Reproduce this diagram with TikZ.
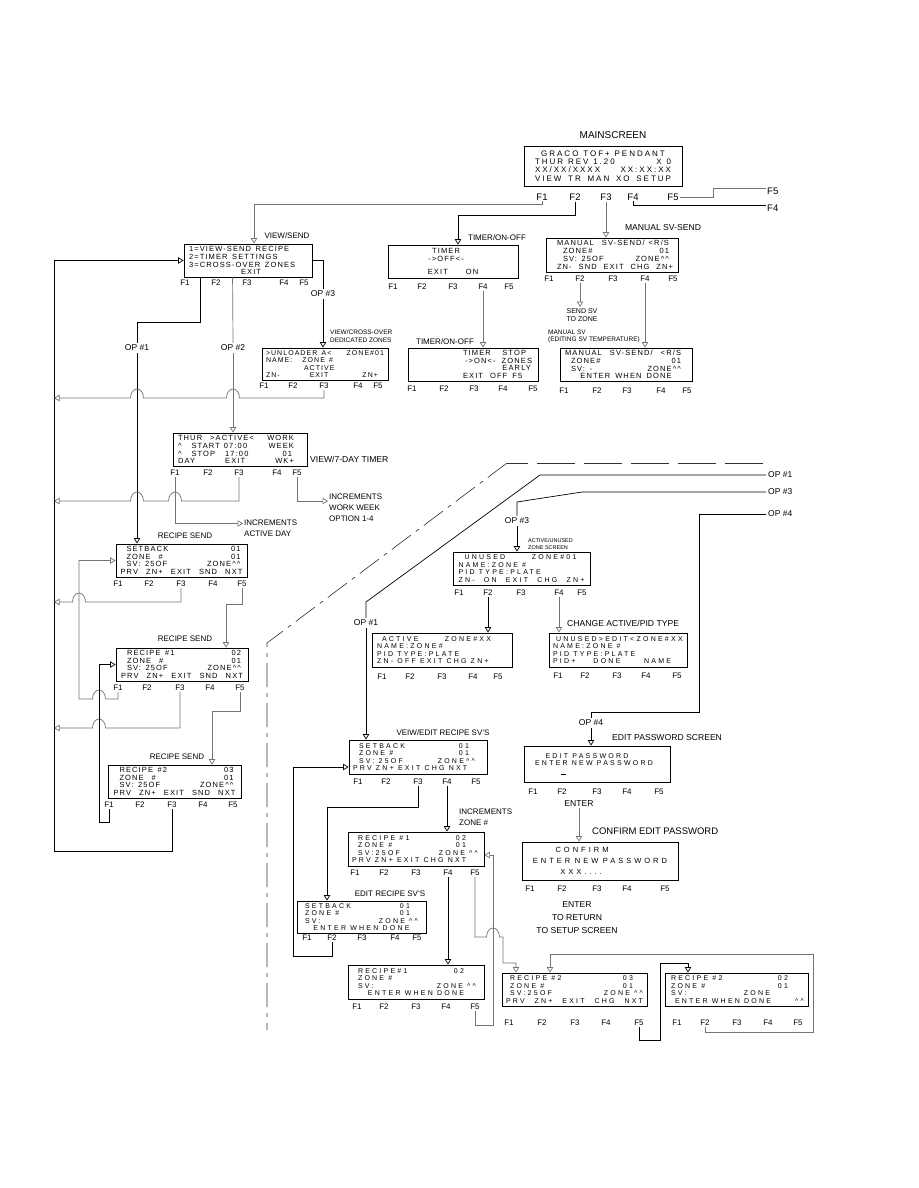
\documentclass[tikz,border=0pt]{standalone}
\usepackage{fontspec}
\setmainfont{Liberation Sans}
\newfontfamily\lcdn[LetterSpace=15]{Liberation Sans}
\newfontfamily\lcdw[LetterSpace=32]{Liberation Sans}
\newfontfamily\lcdm[LetterSpace=25]{Liberation Sans}
\newfontfamily\lcdx[LetterSpace=40]{Liberation Sans}
\usetikzlibrary{arrows.meta}
\newcommand\lcdcaret{\textasciicircum}
\newcommand\ws{\hspace{0.6em}}
\newcommand\lcdl[1]{\ifvmode\noindent\fi\hbox to\linewidth{#1}}
\newcommand\lcdN{\lcdn\fontsize{7.5}{7.8}\selectfont}
\newcommand\lcdS{\lcdn\fontsize{7}{7.6}\selectfont}
\newcommand\lcdW{\lcdw\fontsize{7}{7.4}\selectfont}
\newcommand\lcdM{\lcdm\fontsize{8}{8.3}\selectfont}
\newcommand\lcdX{\lcdx\fontsize{7.5}{11}\selectfont}
\newcommand\scrbox[8]{%
  \node[scr,minimum width={(#4-#2)*1pt},minimum height={(#5-#3)*1pt},text width=#6,font={#7}] (#1) at ({(#2+#4)/2},{(#3+#5)/2}) {#8};}
\newcommand\fkeys[7]{%
  \node[fk] (#1-1) at (#3,#2) {F1};
  \node[fk] (#1-2) at (#4,#2) {F2};
  \node[fk] (#1-3) at (#5,#2) {F3};
  \node[fk] (#1-4) at (#6,#2) {F4};
  \node[fk] (#1-5) at (#7,#2) {F5};}
\tikzset{
 scr/.style={draw, line width=0.9pt, inner sep=0pt, align=left},
 fk/.style={font=\fontsize{8}{9}\selectfont, inner sep=1pt},
 lab/.style={font=\fontsize{8}{9}\selectfont, inner sep=1pt},
 labm/.style={font=\fontsize{8.6}{10}\selectfont, inner sep=1pt},
 labs/.style={font=\fontsize{6.5}{7.5}\selectfont, inner sep=1pt, align=left},
 labt/.style={font=\fontsize{5.5}{6.5}\selectfont, inner sep=1pt, align=left},
 opl/.style={font=\fontsize{8.5}{9}\selectfont, inner sep=2pt},
 blk/.style={draw=black, line width=0.7pt},
 gry/.style={draw=black!55, line width=0.7pt},
 arr/.style={-{Triangle[open,length=5.5pt,width=6.5pt]}},
 divh/.style={draw=black!80, line width=0.6pt, dash pattern=on 38pt off 9pt},
 divd/.style={draw=black!80, line width=0.6pt, dash pattern=on 24pt off 6pt on 4pt off 6pt},
}
\begin{document}
\begin{tikzpicture}[x=1pt,y=-1pt]
\useasboundingbox (0,0) rectangle (918,1188);
% ---------------- screens ----------------
\scrbox{ms}{524}{146}{682}{186}{136pt}{\lcdM}{\lcdl{\hfill GRACO\ws TOF+\ws PENDANT\hfill}\\\lcdl{THUR\ws REV\ws 1.20\hfill X\ws 0}\\\lcdl{XX/XX/XXXX\hfill XX:XX:XX}\\\lcdl{VIEW\hfill TR\hfill MAN\hfill XO\hfill SETUP}}
\scrbox{vs}{184}{244}{312}{277}{118pt}{\lcdN}{\lcdl{1=VIEW-SEND\ws RECIPE\hfill}\\\lcdl{2=TIMER\ws SETTINGS\hfill}\\\lcdl{3=CROSS-OVER\ws ZONES\hfill}\\\lcdl{\hspace{52pt}EXIT\hfill}}
\scrbox{xo}{262}{348}{388}{380}{118pt}{\lcdS}{\lcdl{>UNLOADER\ws A<\hfill ZONE\#01}\\\lcdl{NAME:\hspace{10pt}ZONE\ws\#\hfill}\\\lcdl{\hspace{38pt}ACTIVE\hfill}\\\lcdl{ZN-\hspace{30pt}EXIT\hfill ZN+\hspace{6pt}}}
\scrbox{tm1}{388}{245}{518}{278}{120pt}{\lcdN}{\lcdl{\hfill TIMER\hfill\hspace{14pt}}\\\lcdl{\hfill ->OFF<-\hfill\hspace{14pt}}\\[5pt]\lcdl{\hfill EXIT\hspace{18pt}ON\hfill}}
\scrbox{tm2}{408}{348}{538}{381}{120pt}{\lcdN}{\lcdl{\hspace{50pt}TIMER\hfill STOP\hspace{7pt}}\\\lcdl{\hspace{52pt}->ON<-\hfill ZONES\hspace{1pt}}\\\lcdl{\hfill EARLY\hspace{2pt}}\\\lcdl{\hspace{50pt}EXIT\hspace{7pt}OFF\hspace{5pt}F5\hfill}}
\scrbox{mv1}{546}{238}{678}{272}{122pt}{\lcdN}{\lcdl{\hspace{6pt}MANUAL\hspace{8pt}SV-SEND/\hfill <R/S\hspace{4pt}}\\\lcdl{\hspace{12pt}ZONE\#\hfill 01\hspace{4pt}}\\\lcdl{\hspace{12pt}SV:\ws 25OF\hfill ZONE\lcdcaret\lcdcaret\hspace{4pt}}\\\lcdl{\hspace{6pt}ZN-\hfill SND\hfill EXIT\hfill CHG\hfill ZN+}}
\scrbox{mv2}{560}{348}{692}{381}{122pt}{\lcdN}{\lcdl{MANUAL\hspace{8pt}SV-SEND/\hfill <R/S\hspace{6pt}}\\\lcdl{\hspace{6pt}ZONE\#\hfill 01\hspace{6pt}}\\\lcdl{\hspace{6pt}SV:\ws -\hfill ZONE\lcdcaret\lcdcaret\hspace{6pt}}\\\lcdl{\hfill ENTER\hspace{5pt}WHEN\hspace{5pt}DONE\hfill}}
\scrbox{vt}{173}{433}{307}{466}{124pt}{\lcdN}{\lcdl{THUR\hspace{8pt}>ACTIVE<\hfill WORK\hspace{8pt}}\\\lcdl{\lcdcaret\hspace{10pt}START\hspace{4pt}07:00\hfill WEEK\hspace{8pt}}\\\lcdl{\lcdcaret\hspace{10pt}STOP\hspace{10pt}17:00\hfill 01\hspace{10pt}}\\\lcdl{DAY\hfill EXIT\hfill WK+\hspace{8pt}}}
\scrbox{rs0}{116}{544}{247}{577}{122pt}{\lcdN}{\lcdl{\hspace{6pt}SETBACK\hfill 01\hspace{2pt}}\\\lcdl{\hspace{6pt}ZONE\hspace{8pt}\#\hfill 01\hspace{2pt}}\\\lcdl{\hspace{6pt}SV:\ws 25OF\hfill ZONE\lcdcaret\lcdcaret\hspace{2pt}}\\\lcdl{PRV\hfill ZN+\hfill EXIT\hfill SND\hfill NXT}}
\scrbox{rs1}{116}{648}{248}{681}{122pt}{\lcdN}{\lcdl{\hspace{6pt}RECIPE\ws\#1\hfill 02\hspace{2pt}}\\\lcdl{\hspace{6pt}ZONE\hspace{8pt}\#\hfill 01\hspace{2pt}}\\\lcdl{\hspace{6pt}SV:\ws 25OF\hfill ZONE\lcdcaret\lcdcaret\hspace{2pt}}\\\lcdl{PRV\hfill ZN+\hfill EXIT\hfill SND\hfill NXT}}
\scrbox{rs2}{108}{765}{241}{798}{122pt}{\lcdN}{\lcdl{\hspace{6pt}RECIPE\ws\#2\hfill 03\hspace{2pt}}\\\lcdl{\hspace{6pt}ZONE\hspace{8pt}\#\hfill 01\hspace{2pt}}\\\lcdl{\hspace{6pt}SV:\ws 25OF\hfill ZONE\lcdcaret\lcdcaret\hspace{2pt}}\\\lcdl{PRV\hfill ZN+\hfill EXIT\hfill SND\hfill NXT}}
\scrbox{un}{453}{552}{590}{585}{126pt}{\lcdW}{\lcdl{\hspace{6pt}UNUSED\hfill ZONE\#01\hspace{8pt}}\\\lcdl{NAME:ZONE\ws\#\hfill}\\\lcdl{PID\ws TYPE:PLATE\hfill}\\\lcdl{ZN-\hfill ON\hfill EXIT\hfill CHG\hfill ZN+}}
\scrbox{ac}{372}{633}{512}{667}{130pt}{\lcdW}{\lcdl{\hspace{5pt}ACTIVE\hfill ZONE\#XX\hspace{16pt}}\\\lcdl{NAME:ZONE\#\hfill}\\\lcdl{PID\ws TYPE:PLATE\hfill}\\\lcdl{ZN-\ws OFF\ws EXIT\ws CHG\ws ZN+\hfill}}
\scrbox{ue}{549}{633}{687}{667}{130pt}{\lcdW}{\lcdl{\hspace{3pt}UNUSED>EDIT<ZONE\#XX\hfill}\\\lcdl{NAME:ZONE\ws\#\hfill}\\\lcdl{PID\ws TYPE:PLATE\hfill}\\\lcdl{PID+\hspace{18pt}DONE\hfill NAME\hspace{12pt}}}
\scrbox{ve}{349}{740}{487}{774}{130pt}{\lcdW}{\lcdl{\hspace{6pt}SETBACK\hfill 01\hspace{14pt}}\\\lcdl{\hspace{6pt}ZONE\ws\#\hfill 01\hspace{14pt}}\\\lcdl{\hspace{6pt}SV:\ws 25OF\hfill ZONE\lcdcaret\lcdcaret\hspace{8pt}}\\\lcdl{PRV\ws ZN+\ws EXIT\ws CHG\ws NXT\hfill}}
\scrbox{r1e}{348}{832}{484}{866}{128pt}{\lcdW}{\lcdl{\hspace{6pt}RECIPE\ws\#1\hfill 02\hspace{14pt}}\\\lcdl{\hspace{6pt}ZONE\ws\#\hfill 01\hspace{14pt}}\\\lcdl{\hspace{6pt}SV:25OF\hfill ZONE\ws\lcdcaret\lcdcaret\hspace{2pt}}\\\lcdl{PRV\ws ZN+\ws EXIT\ws CHG\ws NXT\hfill}}
\scrbox{ers}{297}{901}{426}{933}{121pt}{\lcdW}{\lcdl{\hspace{4pt}SETBACK\hfill 01\hspace{12pt}}\\\lcdl{\hspace{4pt}ZONE\ws\#\hfill 01\hspace{12pt}}\\\lcdl{\hspace{4pt}SV:\hfill ZONE\ws\lcdcaret\lcdcaret\hspace{4pt}}\\\lcdl{\hfill ENTER\ws WHEN\ws DONE\hfill}}
\scrbox{r1n}{348}{965}{484}{999}{128pt}{\lcdW}{\lcdl{\hspace{6pt}RECIPE\#1\hfill 02\hspace{16pt}}\\\lcdl{\hspace{6pt}ZONE\ws\#\hfill}\\\lcdl{\hspace{6pt}SV:\hfill ZONE\ws\lcdcaret\lcdcaret\hspace{4pt}}\\\lcdl{\hfill ENTER\ws WHEN\ws DONE\hfill}}
\scrbox{r2}{502}{973}{647}{1006}{137pt}{\lcdW}{\lcdl{\hspace{4pt}RECIPE\ws\#2\hfill 03\hspace{10pt}}\\\lcdl{\hspace{4pt}ZONE\ws\#\hfill 01\hspace{10pt}}\\\lcdl{\hspace{4pt}SV:25OF\hfill ZONE\ws\lcdcaret\lcdcaret}\\\lcdl{PRV\hfill ZN+\hfill EXIT\hfill CHG\hfill NXT}}
\scrbox{r2n}{665}{973}{808}{1006}{135pt}{\lcdW}{\lcdl{\hspace{2pt}RECIPE\ws\#2\hfill 02\hspace{16pt}}\\\lcdl{\hspace{2pt}ZONE\ws\#\hfill 01\hspace{16pt}}\\\lcdl{\hspace{2pt}SV:\hfill ZONE\hspace{34pt}}\\\lcdl{\hspace{6pt}ENTER\ws WHEN\ws DONE\hfill\lcdcaret\lcdcaret}}
\scrbox{ep}{524}{746}{670}{782}{136pt}{\lcdW}{\lcdl{\hfill EDIT\ws PASSWORD\hfill\hspace{20pt}}\\\lcdl{\hfill ENTER\ws NEW\ws PASSWORD\hfill\hspace{6pt}}\\[1pt]\lcdl{\hspace{32pt}\rule{5pt}{0.7pt}\hfill}}
\scrbox{ce}{522}{842}{678}{880}{148pt}{\lcdX}{\lcdl{\hfill CONFIRM\hfill\hspace{36pt}}\\\lcdl{\hfill ENTER\ws NEW\ws PASSWORD\hfill}\\\lcdl{\hfill XXX....\hfill\hspace{38pt}}}
% ---------------- function keys ----------------
\begin{scope}[fk/.append style={font=\fontsize{9.5}{10}\selectfont}]
\fkeys{ms}{197}{542}{575}{606}{633}{673}
\node[fk,anchor=west] (msr5) at (766,191) {F5};
\node[fk,anchor=west] (msr4) at (766,208) {F4};
\end{scope}
\fkeys{vs}{283}{185}{216}{247}{284}{304}
\fkeys{tm1}{287}{393}{422}{453}{483}{509}
\fkeys{mv1}{279}{549}{580}{613}{645}{673}
\fkeys{xo}{386}{264}{293}{324}{358}{378}
\fkeys{tm2}{389}{412}{444}{474}{503}{533}
\fkeys{mv2}{391}{564}{597}{627}{661}{687}
\fkeys{vt}{473}{175}{208}{239}{277}{297}
\fkeys{rs0}{584}{118}{149}{181}{213}{242}
\fkeys{rs1}{688}{118}{147}{180}{210}{240}
\fkeys{rs2}{805}{109}{140}{172}{203}{233}
\fkeys{un}{593}{459}{488}{521}{559}{582}
\fkeys{ac}{677}{382}{410}{442}{473}{498}
\fkeys{ue}{676}{558}{585}{617}{646}{677}
\fkeys{ve}{782}{358}{386}{418}{447}{476}
\fkeys{r1e}{873}{355}{384}{416}{448}{475}
\fkeys{ers}{938}{307}{332}{362}{395}{417}
\fkeys{r1n}{1007}{357}{384}{416}{446}{475}
\fkeys{r2}{1023}{509}{542}{575}{606}{639}
\fkeys{r2n}{1023}{677}{705}{737}{768}{798}
\fkeys{ep}{792}{533}{562}{597}{627}{659}
\fkeys{ce}{889}{530}{562}{597}{627}{665}
% ---------------- labels ----------------
\node[font=\fontsize{10}{11}\selectfont] (mslab) at (613,135) {MAINSCREEN};
\node[lab] (vslab) at (287,236) {VIEW/SEND};
\node[lab] (tm1lab) at (497,238) {TIMER/ON-OFF};
\node[labm] (mvlab) at (663,228) {MANUAL SV-SEND};
\node[labs,anchor=west] (xolab) at (329,336) {VIEW/CROSS-OVER\\DEDICATED ZONES};
\node[lab] (tm2lab) at (445,342) {TIMER/ON-OFF};
\node[labs,align=center,font=\fontsize{7}{8.5}\selectfont] (sendsv) at (582,315) {SEND SV\\TO ZONE};
\node[labs,anchor=west] (mvsv) at (547,336.5) {MANUAL SV\\(EDITING SV TEMPERATURE)};
\node[labm,anchor=west] (vtlab) at (309,459) {VIEW/7-DAY TIMER};
\node[lab,anchor=west,align=left,font=\fontsize{8}{11}\selectfont] (incWW) at (328,508) {INCREMENTS\\WORK WEEK\\OPTION 1-4};
\node[lab,anchor=west,align=left,font=\fontsize{8}{11}\selectfont] (incAD) at (243,528.5) {INCREMENTS\\ACTIVE DAY};
\node[lab] (rslab0) at (185,536) {RECIPE SEND};
\node[lab] (rslab1) at (185,639) {RECIPE SEND};
\node[lab] (rslab2) at (177,757) {RECIPE SEND};
\node[opl] (op1) at (137,348) {OP \#1};
\node[opl] (op2) at (233,348) {OP \#2};
\node[opl] (op3) at (323,294) {OP \#3};
\node[opl] (op3b) at (517,521) {OP \#3};
\node[opl] (op1b) at (366,623) {OP \#1};
\node[opl] (op4b) at (591,723) {OP \#4};
\node[opl,anchor=west] (opr1) at (766,475) {OP \#1};
\node[opl,anchor=west] (opr3) at (766,492) {OP \#3};
\node[opl,anchor=west] (opr4) at (766,514) {OP \#4};
\node[labt,anchor=west] (auz) at (527,544) {ACTIVE/UNUSED\\ZONE SCREEN};
\node[labm,anchor=west] (chg) at (566,623) {CHANGE ACTIVE/PID TYPE};
\node[lab] (velab) at (443,733) {VEIW/EDIT RECIPE SV'S};
\node[lab,anchor=west,align=left,font=\fontsize{8}{11}\selectfont] (inczone) at (458,817.5) {INCREMENTS\\ZONE \#};
\node[lab] (erslab) at (390,894) {EDIT RECIPE SV'S};
\node[labm,anchor=west] (eplab) at (611,738) {EDIT PASSWORD SCREEN};
\node[font=\fontsize{9.5}{11}\selectfont,inner sep=1pt,anchor=west] (celab) at (591,831) {CONFIRM EDIT PASSWORD};
\node[labm] (epent) at (579,804) {ENTER};
\node[labm,align=center,font=\fontsize{8.6}{13}\selectfont] (ret) at (577,918) {ENTER\\TO RETURN\\TO SETUP SCREEN};
% ---------------- connectors: top ----------------
\draw[gry,arr] (ms-1.south) -- ++(0,3) -| ([xshift=6pt]vs.north);
\draw[blk,arr] (ms-2.south) -- ++(0,14) -| ([xshift=5pt]tm1.north);
\draw[gry,arr] (ms-3.south) -- (ms-3.south |- mv1.north);
\draw[blk] (ms-4.south) |- ([yshift=3pt]msr4.west);
\draw[gry] (ms-5.east) -- (713,197) |- ([yshift=3pt]msr5.west);
% view/send
\draw[blk] ([xshift=17pt]vs.south west) -- ++(0,45) -| (op1.north);
\draw[blk,arr] (op1.south) -- (op1.south |- rs0.north);
\draw[gry] ([xshift=49pt]vs.south west) -- (op2.north);
\draw[gry,arr] (op2.south) -- (op2.south |- vt.north);
\draw[blk] (vs.east) -| (op3.north);
\draw[blk,arr] (op3.south) -- (op3.south |- xo.north);
\coordinate (bl) at (54,851);
\draw[blk,arr] (rs2-3.south) |- (bl) |- (vs.west);
\draw[gry,arr] (xo-3.south) |- (239.5,398) arc[start angle=0,end angle=180,x radius=6.5pt,y radius=9pt] -- (143.5,398) arc[start angle=0,end angle=180,x radius=6.5pt,y radius=9pt] -- (54,398);
\draw[gry,arr] (vt-3.south) |- (181.5,501) arc[start angle=0,end angle=180,x radius=6.5pt,y radius=9pt] -- (143.5,501) arc[start angle=0,end angle=180,x radius=6.5pt,y radius=9pt] -- (54,501);
\draw[gry,arr] (vt-1.south) |- ([yshift=5pt]incAD.west);
\draw[gry,arr] (vt-5.south) |- ([yshift=7pt]incWW.west);
% timers / manual
\draw[gry,arr] (tm1-4.south) -- (tm1-4.south |- tm2.north);
\draw[gry,arr] (mv1-2.south) -- (mv1-2.south |- sendsv.north);
\draw[gry,arr] (mv1-4.south) -- (mv1-4.south |- mv2.north);
% recipe sends
\draw[gry,arr] (rs0-5.south) -- ++(0,16) -| ([xshift=44pt]rs1.north);
\draw[gry,arr] (rs0-3.south) |- (85.5,602) arc[start angle=0,end angle=180,x radius=6.5pt,y radius=9pt] -- (54,602);
\draw[gry,arr] (rs1-1.south) |- (105.5,699) arc[start angle=0,end angle=180,x radius=6.5pt,y radius=9pt] -- (79,699) |- (rs0.west);
\draw[gry,arr] (rs1-3.south) |- (105.5,728) arc[start angle=0,end angle=180,x radius=6.5pt,y radius=9pt] -- (54,728);
\draw[gry,arr] (rs1-5.south) -- ++(0,19) -| ([xshift=37.5pt]rs2.north);
\draw[blk,arr] (rs2-1.south) |- (99,822) |- (rs1.west);
% ---------------- lower right ----------------
\draw[divh] (763,463) -- (507,463);
\draw[divd] (507,463) -- (267,643) -- (267,1030);
\draw[blk] (opr1.west) -- (540,475) -- (366,602) -- (op1b.north);
\draw[blk,arr] (op1b.south) -- (op1b.south |- ve.north);
\draw[blk] (opr3.west) -- (582,492) -- (517,502) -- (op3b.north);
\draw[blk,arr] (op3b.south) -- (op3b.south |- un.north);
\draw[blk] (opr4.west) -| (699,712) -| (op4b.north);
\draw[blk,arr] (op4b.south) -- (op4b.south |- ep.north);
\draw[blk,arr] (un-2.south) -- (un-2.south |- ac.north);
\draw[gry,arr] (un-4.south) -- (un-4.south |- ue.north);
\draw[blk,arr] (ers-2.south) |- (293,956) |- ([yshift=-10pt]ve.west);
\draw[blk,arr] (ve-3.south) -- ++(0,21) -| ([xshift=-34.5pt]ers.north);
\draw[blk,arr] (ve-4.south) -- (ve-4.south |- r1e.north);
\draw[blk,arr] (r1e-4.south) -- (r1e-4.south |- r1n.north);
\draw[gry,arr] (r1n-5.south) |- (493,1025) |- ([yshift=-6pt]r1e.east);
\draw[gry,arr] (r1e-5.south) |- (486.5,937) arc[start angle=180,end angle=0,x radius=6.5pt,y radius=9pt] -- (503,937) |- (516,963) -- ([xshift=-58.5pt]r2.north);
\draw[gry,arr] (r2n-2.south) |- (813,1032) |- (550,954) -- ([xshift=-24.5pt]r2.north);
\draw[blk,arr] (r2-5.south) |- (660,1040) |- (688,963) -- ([xshift=-48.5pt]r2n.north);
\draw[gry,arr] (epent.south) -- (epent.south |- ce.north);
\end{tikzpicture}
\end{document}
